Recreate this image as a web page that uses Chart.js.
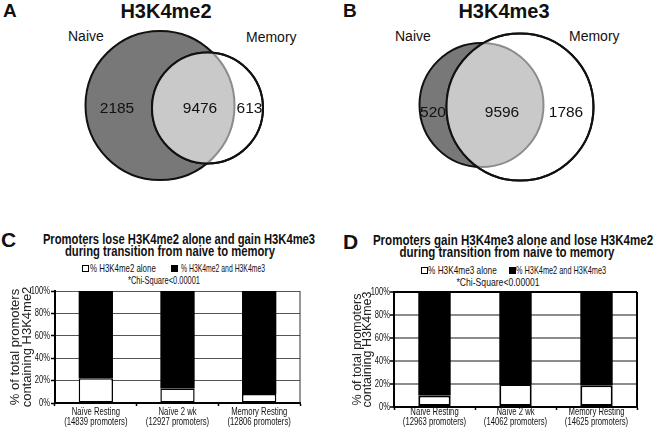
<!DOCTYPE html>
<html>
<head>
<meta charset="utf-8">
<script src="https://cdn.jsdelivr.net/npm/chart.js@4.4.0/dist/chart.umd.min.js"></script>
<style>
html,body{margin:0;padding:0;background:#fff;}
body{width:655px;height:428px;position:relative;overflow:hidden;font-family:'Liberation Sans',Arial,sans-serif;color:#111;}
canvas{position:absolute;}
.t{position:absolute;white-space:nowrap;line-height:1;}
.c{transform:translateX(-50%);}
.b{font-weight:bold;}
.box{position:absolute;width:7px;height:7px;box-sizing:border-box;border:1.5px solid #000;}
</style>
</head>
<body>
<!-- panel letters and headings -->
<div class="t b" style="left:3px;top:1px;font-size:19px;">A</div>
<div class="t b c" style="left:166px;top:1px;font-size:20px;">H3K4me2</div>
<div class="t" style="left:68px;top:29px;font-size:14px;">Naive</div>
<div class="t" style="left:246px;top:30px;font-size:14px;">Memory</div>

<div class="t b" style="left:343px;top:1px;font-size:19px;">B</div>
<div class="t b c" style="left:504px;top:1px;font-size:20px;">H3K4me3</div>
<div class="t" style="left:395px;top:29px;font-size:14px;">Naive</div>
<div class="t" style="left:569px;top:29px;font-size:14px;">Memory</div>

<div class="t b" style="left:1px;top:229px;font-size:21px;">C</div>
<div class="t b c" data-w="272" style="left:179px;top:231px;font-size:15px;">Promoters lose H3K4me2 alone and gain H3K4me3</div>
<div class="t b c" data-w="210" style="left:170px;top:243px;font-size:15px;">during transition from naive to memory</div>
<div class="box" style="left:82px;top:265px;background:#fff;"></div>
<div class="t" data-w="66" style="left:90px;top:263px;font-size:11px;">% H3K4me2 alone</div>
<div class="box" style="left:171px;top:265px;background:#000;"></div>
<div class="t" data-w="84" style="left:181px;top:263px;font-size:11px;">% H3K4me2 and H3K4me3</div>
<div class="t c" data-w="72" style="left:164px;top:275px;font-size:11px;">*Chi-Square&lt;0.00001</div>

<div class="t b" style="left:343px;top:231px;font-size:21px;">D</div>
<div class="t b c" data-w="280" style="left:513px;top:232px;font-size:15px;">Promoters gain H3K4me3 alone and lose H3K4me2</div>
<div class="t b c" data-w="215" style="left:507px;top:244px;font-size:15px;">during transition from naive to memory</div>
<div class="box" style="left:421px;top:267px;background:#fff;"></div>
<div class="t" data-w="69" style="left:428px;top:265px;font-size:11px;">% H3K4me3 alone</div>
<div class="box" style="left:509px;top:267px;background:#000;"></div>
<div class="t" data-w="90" style="left:516px;top:265px;font-size:11px;">% H3K4me2 and H3K4me3</div>
<div class="t c" data-w="83" style="left:498px;top:277px;font-size:11px;">*Chi-Square&lt;0.00001</div>

<canvas id="vennA" width="325" height="220" style="left:0;top:0;"></canvas>
<canvas id="vennB" width="330" height="220" style="left:325px;top:0;"></canvas>
<canvas id="barC" width="325" height="148" style="left:0;top:280px;"></canvas>
<canvas id="barD" width="325" height="148" style="left:330px;top:280px;"></canvas>

<script>
// Venn counts: naive only, shared, memory only
const vennRegions = ['Naive only', 'Naive and Memory', 'Memory only'];
const me2Counts = [2185, 9476, 613];
const me3Counts = [520, 9596, 1786];

// bar panels
const stageNames = ['Naïve Resting', 'Naïve 2 wk', 'Memory Resting'];
const me2Promoters = ['14839', '12927', '12806'];
const me3Promoters = ['12963', '14062', '14625'];
const me2AlonePct = [22, 13, 8];
const me2BothPct = [78, 87, 92];
const me3AlonePct = [10, 20, 19];
const me3BothPct = [90, 80, 81];
const pctTicks = [0, 20, 40, 60, 80, 100];

const REGULAR = "'Liberation Sans',Arial,sans-serif";
Chart.defaults.color = '#111';
Chart.defaults.animation = false;

// squeeze the condensed-looking header texts to the widths seen in the figure
document.querySelectorAll('[data-w]').forEach(el => {
    const s = parseFloat(el.dataset.w) / el.offsetWidth;
    const centered = el.classList.contains('c');
    el.style.transformOrigin = centered ? '50% 50%' : '0 50%';
    el.style.transform = (centered ? 'translateX(-50%) ' : '') + 'scaleX(' + s.toFixed(3) + ')';
});

// ---- Venn diagrams (bubble chart on a pixel-sized linear scale) ----
const vennPlugin = {
    id: 'vennLens',
    afterDatasetsDraw(chart, args, opts){
        const ctx = chart.ctx;
        const naive = chart.getDatasetMeta(1).data[0];
        const mem = chart.getDatasetMeta(0).data[0];
        const rn = naive.options.radius, rm = mem.options.radius;
        ctx.save();
        ctx.beginPath(); ctx.arc(mem.x, mem.y, rm, 0, Math.PI*2); ctx.clip();
        ctx.beginPath(); ctx.arc(naive.x, naive.y, rn, 0, Math.PI*2);
        ctx.fillStyle = '#c9c9c9'; ctx.fill();
        ctx.strokeStyle = '#8c8c8c'; ctx.lineWidth = 2; ctx.stroke();
        ctx.restore();
        ctx.save();
        ctx.beginPath(); ctx.arc(mem.x, mem.y, rm, 0, Math.PI*2);
        ctx.strokeStyle = '#111'; ctx.lineWidth = 2; ctx.stroke();
        // region counts
        const xs = chart.scales.x, ys = chart.scales.y;
        ctx.fillStyle = '#111';
        ctx.font = '15.5px ' + REGULAR;
        ctx.textAlign = 'center'; ctx.textBaseline = 'alphabetic';
        opts.counts.forEach((v, i) => {
            const a = opts.anchors[i];
            ctx.fillText(String(v), xs.getPixelForValue(a[0]), ys.getPixelForValue(a[1]));
        });
        ctx.restore();
    }
};

function makeVenn(id, w, naiveCircle, memCircle, counts, anchors){
    new Chart(document.getElementById(id), {
        type: 'bubble',
        data: {
            datasets: [
                { label: 'Memory', data: [memCircle], backgroundColor: '#ffffff', borderColor: '#111', borderWidth: 2, order: 1 },
                { label: 'Naive', data: [naiveCircle], backgroundColor: '#787878', borderColor: '#111', borderWidth: 2, order: 2 }
            ]
        },
        options: {
            responsive: false,
            events: [],
            clip: false,
            layout: { padding: 0, autoPadding: false },
            plugins: { legend: { display: false }, tooltip: { enabled: false }, vennLens: { counts, anchors } },
            scales: {
                x: { type: 'linear', min: 0, max: w, display: false },
                y: { type: 'linear', min: 0, max: 220, reverse: true, display: false }
            }
        },
        plugins: [vennPlugin]
    });
}

makeVenn('vennA', 325, { x: 160, y: 105.5, r: 74.5 }, { x: 207.5, y: 108, r: 55.5 },
    me2Counts, [[117, 113.3], [200, 113.3], [249.5, 113.3]]);
makeVenn('vennB', 330, { x: 156.5, y: 105, r: 62 }, { x: 195, y: 107, r: 73.5 },
    me3Counts, [[108, 116.5], [177, 116.5], [241, 116.5]]);

// ---- stacked percentage bars ----
const framePlugin = {
    id: 'rightFrame',
    afterDatasetsDraw(chart, args, opts){
        const a = chart.chartArea, ctx = chart.ctx;
        ctx.save();
        ctx.strokeStyle = opts.color; ctx.lineWidth = opts.width;
        ctx.beginPath(); ctx.moveTo(a.right, a.top); ctx.lineTo(a.right, a.bottom); ctx.stroke();
        ctx.restore();
    }
};

// tick labels in a condensed face (no narrow font installed, so squeeze horizontally)
const narrowTicks = {
    id: 'narrowTicks',
    afterDraw(chart, args, o){
        const ctx = chart.ctx, xs = chart.scales.x, ys = chart.scales.y;
        ctx.save();
        ctx.fillStyle = '#111';
        ctx.textBaseline = 'middle';
        ctx.font = o.xSize + 'px ' + REGULAR;
        chart.data.labels.forEach((lines, i) => {
            const px = xs.getPixelForTick(i);
            lines.forEach((ln, j) => {
                ctx.save();
                ctx.translate(px, xs.top + o.xOffset + j * o.xLH);
                ctx.scale(o.xSx, 1);
                ctx.textAlign = 'center';
                ctx.fillText(ln, 0, 0);
                ctx.restore();
            });
        });
        ctx.font = o.ySize + 'px ' + REGULAR;
        ys.ticks.forEach(t => {
            ctx.save();
            ctx.translate(ys.right - o.yGap, ys.getPixelForValue(t.value));
            ctx.scale(o.ySx, 1);
            ctx.textAlign = 'right';
            ctx.fillText(t.value + '%', 0, 0);
            ctx.restore();
        });
        ctx.restore();
    }
};

function makeBars(id, cfg){
    const labels = stageNames.map((s, i) => [s, '(' + cfg.promoters[i] + ' promoters)']);
    new Chart(document.getElementById(id), {
        type: 'bar',
        data: {
            labels,
            datasets: [
                { label: cfg.aloneLabel, data: cfg.alone, backgroundColor: '#ffffff', borderColor: '#000', borderWidth: cfg.barBorder, borderSkipped: false },
                { label: '% H3K4me2 and H3K4me3', data: cfg.both, backgroundColor: '#000', borderColor: '#000', borderWidth: 0 }
            ]
        },
        options: {
            responsive: false,
            events: [],
            layout: { padding: { top: cfg.padTop, right: cfg.padRight, left: 0, bottom: 0 } },
            datasets: { bar: { categoryPercentage: 1, barPercentage: cfg.barPct } },
            plugins: {
                legend: { display: false }, tooltip: { enabled: false },
                rightFrame: { color: cfg.frameColor, width: cfg.frameWidth },
                narrowTicks: { xSize: 11, xSx: 0.7, xOffset: cfg.xOffset, xLH: 10, ySize: 10.5, ySx: 0.72, yGap: cfg.yGap }
            },
            scales: {
                x: {
                    stacked: true,
                    afterFit: s => { s.height = cfg.xHeight; },
                    grid: { display: true, drawOnChartArea: false, drawTicks: true, tickLength: 3, tickColor: '#000', tickWidth: 1.5, offset: true },
                    border: { display: true, color: '#000', width: 2 },
                    ticks: { display: false }
                },
                y: {
                    stacked: true, min: 0, max: 100,
                    afterFit: s => { s.width = cfg.yWidth; },
                    afterBuildTicks: s => { s.ticks = pctTicks.map(v => ({ value: v })); },
                    ticks: { display: false },
                    grid: {
                        color: c => c.tick && c.tick.value === 100 ? cfg.topColor : (c.tick && c.tick.value === 0 ? '#000' : cfg.gridColor),
                        lineWidth: cfg.gridWidth,
                        tickLength: 4, tickColor: '#000', tickWidth: 1.5
                    },
                    border: { display: true, color: '#000', width: 2 },
                    title: {
                        display: true, text: cfg.yTitle, color: '#222',
                        font: { family: REGULAR, size: cfg.yTitleSize, lineHeight: cfg.yTitleLH },
                        padding: { top: cfg.yTitlePad, bottom: 0 }
                    }
                }
            }
        },
        plugins: [framePlugin, narrowTicks]
    });
}

makeBars('barC', {
    promoters: me2Promoters, alone: me2AlonePct, both: me2BothPct, aloneLabel: '% H3K4me2 alone',
    barPct: 0.42, barBorder: 1.5, padTop: 11, padRight: 25, xHeight: 25, yWidth: 55,
    xOffset: 9, yGap: 5,
    gridColor: '#555', topColor: '#555', gridWidth: 1, frameColor: '#333', frameWidth: 1,
    yTitle: ['% of total promoters', 'containing H3K4me2'], yTitleSize: 13, yTitleLH: 0.9, yTitlePad: 10
});
makeBars('barD', {
    promoters: me3Promoters, alone: me3AlonePct, both: me3BothPct, aloneLabel: '% H3K4me3 alone',
    barPct: 0.40, barBorder: 2, padTop: 12, padRight: 18, xHeight: 21, yWidth: 64,
    xOffset: 4.5, yGap: 4,
    gridColor: '#8c8c8c', topColor: '#000', gridWidth: 2, frameColor: '#000', frameWidth: 2,
    yTitle: ['% of total promoters', 'containing H3K4me3'], yTitleSize: 12.5, yTitleLH: 0.8, yTitlePad: 22.7
});
</script>
</body>
</html>
